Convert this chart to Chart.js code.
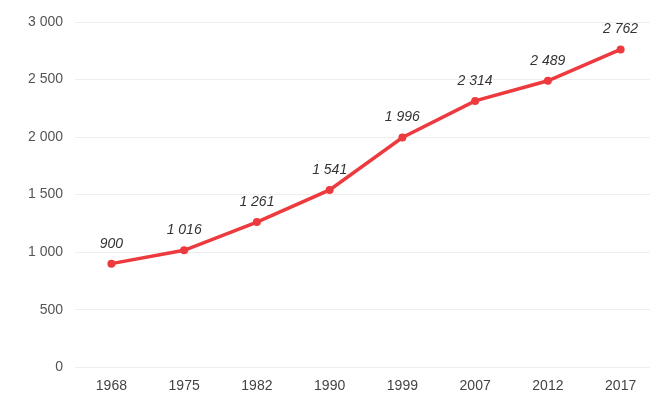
<!DOCTYPE html>
<html>
<head>
<meta charset="utf-8">
<script src="https://cdn.jsdelivr.net/npm/chart.js@4"></script>
<style>
  html, body { margin: 0; padding: 0; background: #fff; overflow: hidden; }
  #wrap { position: relative; width: 661px; height: 400px; }
</style>
</head>
<body>
<div id="wrap"><canvas id="popChart"></canvas></div>
<script>
const years = ["1968", "1975", "1982", "1990", "1999", "2007", "2012", "2017"];
const values = [900, 1016, 1261, 1541, 1996, 2314, 2489, 2762];
const yTicks = [0, 500, 1000, 1500, 2000, 2500, 3000];

// "2762" -> "2 762"
const fmt = (v) => String(v).replace(/\B(?=(\d{3})+(?!\d))/g, " ");

// draw the value above every point
const valueLabels = {
  id: "valueLabels",
  afterDatasetsDraw(chart) {
    const ctx = chart.ctx;
    const meta = chart.getDatasetMeta(0);
    ctx.save();
    ctx.font = "italic 14px 'Liberation Sans', Arial, sans-serif";
    ctx.fillStyle = "#333";
    ctx.textAlign = "center";
    ctx.textBaseline = "bottom";
    meta.data.forEach((pt, i) => {
      ctx.fillText(fmt(values[i]), pt.x, pt.y - 13);
    });
    ctx.restore();
  },
};

document.addEventListener("DOMContentLoaded", () => {
  new Chart(document.getElementById("popChart"), {
    type: "line",
    data: {
      labels: years,
      datasets: [
        {
          data: values,
          borderColor: "#ec3a3f",
          backgroundColor: "#ec3a3f",
          borderWidth: 3.5,
          pointRadius: 4,
          pointBorderWidth: 0,
          tension: 0,
        },
      ],
    },
    options: {
      responsive: true,
      maintainAspectRatio: false,
      animation: false,
      layout: { padding: { top: 22, left: 16, right: 0, bottom: 2 } },
      plugins: { legend: { display: false }, tooltip: { enabled: false } },
      scales: {
        x: {
          offset: true,
          grid: { display: false },
          border: { display: false },
          ticks: {
            color: "#444",
            font: { size: 14, family: "'Liberation Sans', Arial, sans-serif" },
            padding: 3,
          },
        },
        y: {
          min: 0,
          max: 3000,
          afterBuildTicks: (axis) => {
            axis.ticks = yTicks.map((v) => ({ value: v }));
          },
          grid: { color: "#eeeeee", lineWidth: 1, drawTicks: false },
          border: { display: false },
          ticks: {
            color: "#555",
            font: { size: 14, family: "'Liberation Sans', Arial, sans-serif" },
            padding: 12,
            callback: (v) => fmt(v),
          },
        },
      },
    },
    plugins: [valueLabels],
  });
});
</script>
</body>
</html>
